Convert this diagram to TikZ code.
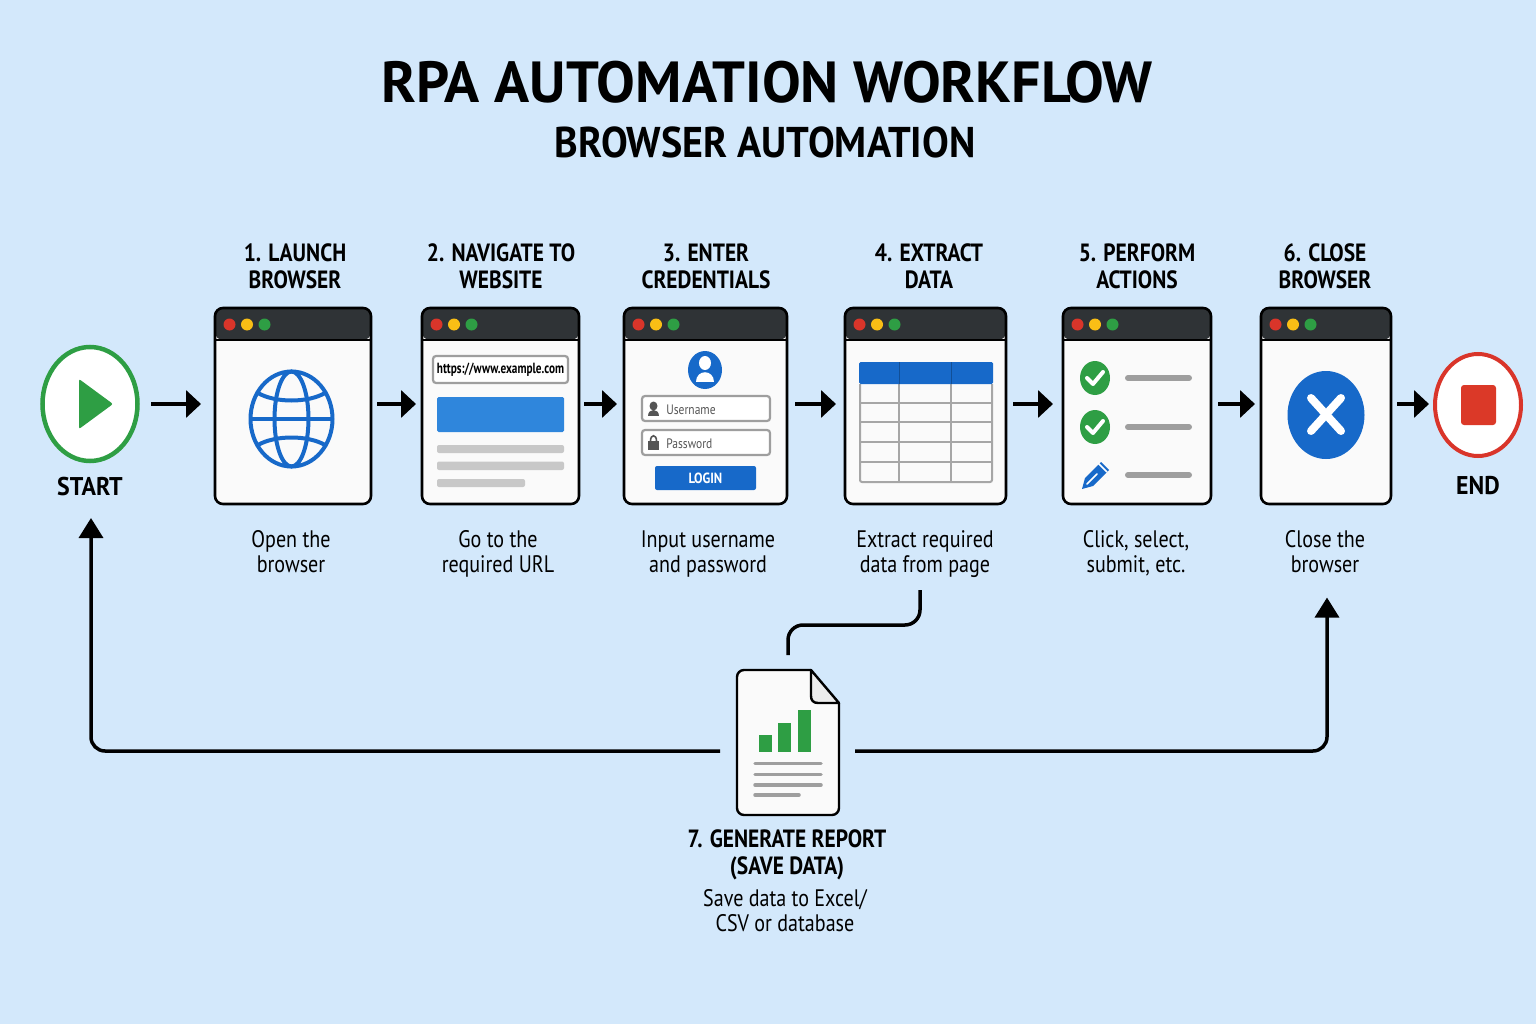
\documentclass[tikz,border=0pt]{standalone}
\usepackage{fontspec}
\usepackage{tikz}
\usetikzlibrary{arrows,arrows.meta}
\usetikzlibrary{calc,shapes.geometric}
\newfontfamily\titlefont{PT Sans}
\newfontfamily\subfont[FakeStretch=0.93]{PT Sans}
\newfontfamily\headfont[FakeStretch=0.86]{PT Sans}
\newfontfamily\descfont[FakeStretch=0.84]{PT Sans}
\newfontfamily\urlfont[FakeStretch=0.76]{PT Sans}
\definecolor{backblue}{HTML}{D3E8FB}
\definecolor{barblack}{HTML}{2F3336}
\definecolor{iconblue}{HTML}{1769C9}
\definecolor{softblue}{HTML}{2F86DC}
\definecolor{okgreen}{HTML}{2E9E44}
\definecolor{stopred}{HTML}{D9352A}
\definecolor{dotyellow}{HTML}{F9BE15}
\definecolor{linegray}{HTML}{9E9E9E}
\definecolor{bargray}{HTML}{C8C8C8}
\definecolor{inkgray}{HTML}{555555}
\def\px{0.02cm}
\tikzset{
	flow/.style={draw=black, line width=3.5*\px, -{Triangle[length=15*\px, width=27*\px]}},
	back/.style={draw=black, line width=3.5*\px, rounded corners=14*\px, -{Triangle[length=20*\px, width=24*\px]}},
	browserwin/.style={draw=black, line width=2.6*\px, fill=white!98!black, rounded corners=8*\px, inner sep=0pt, outer sep=0pt, anchor=north west,
		path picture={
			\coordinate (pp) at (path picture bounding box.north west);
			\fill[barblack] (pp) rectangle (path picture bounding box.north east |- {$(pp)+(0,32)$});
			\draw[black, line width=2*\px] ($(pp)+(0,32)$) -- (path picture bounding box.north east |- {$(pp)+(0,32)$});
			\fill[stopred] ($(pp)+(14.5,16.5)$) circle (6);
			\fill[dotyellow] ($(pp)+(32,16.5)$) circle (6);
			\fill[okgreen] ($(pp)+(49.5,16.5)$) circle (6);
		}},
	steplabel/.style={inner sep=0pt, align=center, font=\headfont\bfseries\fontsize{14.2}{15.4}\selectfont},
	endlabel/.style={inner sep=0pt, font=\subfont\bfseries\fontsize{14.6}{16}\selectfont},
	steptext/.style={inner sep=0pt, align=center, font=\descfont\fontsize{13.6}{14.3}\selectfont},
	field/.style={draw=linegray, line width=2.2*\px, fill=white, rounded corners=3*\px, inner sep=0pt, outer sep=0pt, anchor=north west},
	greyline/.style={linegray, line width=6*\px, line cap=round},
	docline/.style={linegray, line width=3.5*\px, line cap=round},
	gridline/.style={gray!70, line width=2*\px},
}
\newcommand{\okmark}[2]{
	\fill[okgreen] (#1,#2) ellipse (15 and 17);
	\draw[white, line width=4*\px, line cap=round, line join=round] (#1-8,#2) -- (#1-2,#2+6) -- (#1+8,#2-6);
}

\begin{document}
\begin{tikzpicture}[x=0.02cm, y=-0.02cm]

	\fill[backblue] (0,0) rectangle (1536,1024);
	\useasboundingbox (0,0) rectangle (1536,1024);

	% title
	\node[inner sep=0pt, font=\titlefont\bfseries\fontsize{33}{36}\selectfont] (title) at (767,82) {RPA AUTOMATION WORKFLOW};
	\node[inner sep=0pt, font=\subfont\bfseries\fontsize{24.5}{27}\selectfont] (subtitle) at (765,142) {BROWSER AUTOMATION};

	% start and end
	\node[ellipse, draw=okgreen, line width=4.5*\px, fill=white, inner sep=0pt, outer sep=0pt, minimum width=95*\px, minimum height=114*\px] (start) at (90,404) {};
	\fill[okgreen, rounded corners=2*\px] (79,379) -- (113,404) -- (79,429) -- cycle;
	\node[endlabel] (startlabel) at (90,487) {START};
	\node[ellipse, draw=stopred, line width=4*\px, fill=white, inner sep=0pt, outer sep=0pt, minimum width=86*\px, minimum height=102*\px] (end) at (1478,405) {};
	\fill[stopred!95!orange, rounded corners=3*\px] (1461,385) rectangle (1496,425);
	\node[endlabel] (endlabel) at (1478,486) {END};

	% browser windows
	\foreach \n/\l/\w in {1/215/156, 2/422/157, 3/624/163, 4/845/161, 5/1063/148, 6/1261/130}
		\node[browserwin, minimum width=\w*\px, minimum height=196*\px] (win\n) at (\l,308) {};

	\node[steplabel] (lab1) at (295,266.5) {1. LAUNCH\\BROWSER};
	\node[steplabel] (lab2) at (501,266.5) {2. NAVIGATE TO\\WEBSITE};
	\node[steplabel] (lab3) at (706,266.5) {3. ENTER\\CREDENTIALS};
	\node[steplabel] (lab4) at (929,266.5) {4. EXTRACT\\DATA};
	\node[steplabel] (lab5) at (1137,266.5) {5. PERFORM\\ACTIONS};
	\node[steplabel] (lab6) at (1325,266.5) {6. CLOSE\\BROWSER};

	\node[steptext] (txt1) at (291,552) {Open the\\browser};
	\node[steptext] (txt2) at (498,554) {Go to the\\required URL};
	\node[steptext] (txt3) at (708,554) {Input username\\and password};
	\node[steptext] (txt4) at (925,554) {Extract required\\data from page};
	\node[steptext] (txt5) at (1136,553) {Click, select,\\submit, etc.};
	\node[steptext] (txt6) at (1325,552) {Close the\\browser};

	% globe
	\begin{scope}[iconblue, line width=4*\px]
		\draw (291.5,419) ellipse (41 and 47.5);
		\draw (291.5,419) ellipse (17 and 47.5);
		\draw (250,419) -- (333,419);
		\draw (258,393) .. controls (275,403) and (308,403) .. (325,393);
		\draw (258,445) .. controls (275,435) and (308,435) .. (325,445);
	\end{scope}

	% website
	\node[field, minimum width=135*\px, minimum height=27*\px, text=black, font=\urlfont\bfseries\fontsize{8.4}{10}\selectfont] (url) at (433,356) {https://www.example.com};
	\fill[softblue, rounded corners=1.5*\px] (437,397) rectangle (564,432);
	\fill[bargray, rounded corners=2*\px] (437,445) rectangle (564,453);
	\fill[bargray, rounded corners=2*\px] (437,461.5) rectangle (564,470);
	\fill[bargray, rounded corners=2*\px] (437,479) rectangle (525,487);

	% login form
	\fill[iconblue] (705,370) ellipse (17 and 19);
	\fill[white] (705,363) ellipse (6 and 7);
	\fill[white] (696,382) .. controls (696,369) and (714,369) .. (714,382) -- cycle;
	\node[field, minimum width=128*\px, minimum height=25*\px] (userbox) at (642,396) {};
	\node[field, minimum width=128*\px, minimum height=25*\px] (passbox) at (642,430) {};
	\node[anchor=west, inner sep=0pt, text=inkgray, font=\descfont\fontsize{7.8}{9}\selectfont] (usertxt) at (666,409.5) {Username};
	\node[anchor=west, inner sep=0pt, text=inkgray, font=\descfont\fontsize{7.8}{9}\selectfont] (passtxt) at (666,443.5) {Password};
	\fill[inkgray] (653.5,406) ellipse (4 and 4.5);
	\fill[inkgray] (648,416) .. controls (648,408) and (659,408) .. (659,416) -- cycle;
	\draw[inkgray, line width=1.6*\px] (650.5,441) .. controls (650.5,434) and (656.5,434) .. (656.5,441);
	\fill[inkgray] (648,441) rectangle (659,449.5);
	\node[fill=iconblue, rounded corners=2*\px, minimum width=101*\px, minimum height=24*\px, inner sep=0pt, outer sep=0pt, anchor=north west, text=white, font=\headfont\bfseries\fontsize{8.4}{10}\selectfont] (login) at (655,466) {LOGIN};

	% table
	\foreach \c in {899,951}
		\draw[gridline] (\c,384) -- (\c,482);
	\foreach \r in {403,422,442,462}
		\draw[gridline] (860,\r) -- (992,\r);
	\draw[gridline, rounded corners=2*\px] (860,384) -- (860,482) -- (992,482) -- (992,384);
	\fill[iconblue, rounded corners=1.5*\px] (859,362) rectangle (993,384);
	\foreach \c in {899,951}
		\draw[iconblue!75!black, line width=1*\px] (\c,362) -- (\c,384);

	% actions
	\okmark{1095}{378}
	\okmark{1095}{427}
	\fill[iconblue] (1082,489) -- (1085,478) -- (1101,462) -- (1109,470) -- (1093,486) -- cycle;
	\draw[white, line width=1.5*\px, line cap=round] (1087,484) -- (1097,474);
	\draw[white, line width=1.5*\px] (1098,463) -- (1107,472);
	\foreach \r in {378,427,475}
		\draw[greyline] (1128,\r) -- (1189,\r);

	% close
	\fill[iconblue] (1326,415) ellipse (38.5 and 44);
	\draw[white, line width=8*\px, line cap=round] (1311,398) -- (1341,431);
	\draw[white, line width=8*\px, line cap=round] (1341,398) -- (1311,431);

	% report
	\node[inner sep=0pt, outer sep=0pt, minimum width=102*\px, minimum height=128*\px] (report) at (788,751) {};
	\draw[black, line width=2.4*\px, fill=white!98!black, rounded corners=7*\px] (811,670) -- (737,670) -- (737,815) -- (839,815) -- (839,703);
	\draw[black, line width=2.4*\px, fill=gray!15, line join=round] (811,670) -- (839,703) -- (818,703) .. controls (813,703) and (811,700) .. (811,696) -- cycle;
	\fill[okgreen] (759,735) rectangle (772,752);
	\fill[okgreen] (778,723) rectangle (791,752);
	\fill[okgreen] (798,710) rectangle (811,752);
	\foreach \r in {763.5,774.5,785}
		\draw[docline] (755,\r) -- (821,\r);
	\draw[docline] (755,795) -- (799,795);
	\node[steplabel] (lab7) at (787,854.5) {7. GENERATE REPORT\\(SAVE DATA)};
	\node[steptext] (txt7) at (785,910.5) {Save data to Excel/\\CSV or database};

	% connectors
	\foreach \a/\b/\s/\e in {start/win1/13.5/14, win1/win2/6/6, win2/win3/5/7, win3/win4/8/9, win4/win5/7/10, win5/win6/7/6, win6/end/6/6}
		\draw[flow, shorten <=\s*\px, shorten >=\e*\px] (start -| \a.east) -- (start -| \b.west);
	\coordinate (tap4) at (920,590);
	\coordinate (tap7) at (788,625);
	\draw[black, line width=3.5*\px, rounded corners=15*\px, shorten >=32*\px] (tap4) |- (tap7) -- (report.north);
	\draw[back, shorten <=17*\px, shorten >=57*\px] (report.west) -| ([xshift=1*\px]start.south);
	\draw[back, shorten <=16*\px, shorten >=24*\px] (report.east) -| ([xshift=2*\px]txt6.south);

\end{tikzpicture}
\end{document}
